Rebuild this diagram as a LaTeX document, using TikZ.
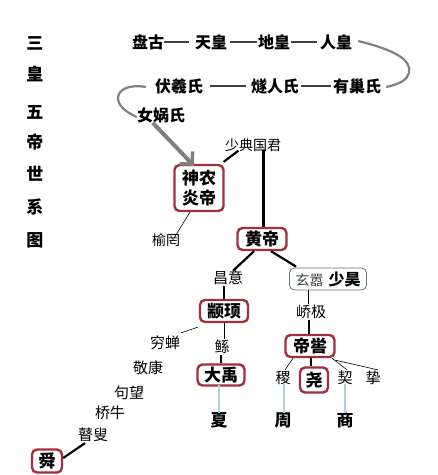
\documentclass[tikz,border=0pt]{standalone}
\usepackage{fontspec}
\newfontfamily\cjk{Noto Sans CJK SC}
\usetikzlibrary{arrows.meta,calc}
\definecolor{boxred}{HTML}{A0303C}
\definecolor{curvegray}{HTML}{808080}
\definecolor{lineblue}{HTML}{A9D3DE}
\definecolor{thinbox}{HTML}{806A5E}
\begin{document}
\begin{tikzpicture}[x=1pt,y=-1pt,
  every node/.style={inner sep=1pt,font=\cjk},
  title/.style={font=\cjk\bfseries\fontsize{17}{17}\selectfont},
  head/.style={font=\cjk\bfseries\fontsize{16}{16}\selectfont},
  small/.style={font=\cjk\fontsize{14}{14}\selectfont},
  mid/.style={font=\cjk\fontsize{15}{15}\selectfont},
  dyn/.style={font=\cjk\bfseries\fontsize{17}{17}\selectfont},
  emp/.style={draw=boxred,line width=2.4pt,rounded corners=5pt,inner sep=0pt,
    font=\cjk\bfseries\fontsize{17}{20}\selectfont},
  dashline/.style={draw=black!75,line width=2pt},
  curve/.style={draw=curvegray,line width=2.2pt},
  thick link/.style={draw=black,line width=2.2pt},
  thin link/.style={draw=black,line width=0.6pt},
  blue link/.style={draw=lineblue,line width=2pt}]
\useasboundingbox (0,0) rectangle (438,475);
\fill[white] (0,0) rectangle (438,475);

% vertical title
\node[title] (t1) at (35,43) {三};
\node[title] (t2) at (35,74) {皇};
\node[title] (t3) at (35,112) {五};
\node[title] (t4) at (35,142) {帝};
\node[title] (t5) at (35,174) {世};
\node[title] (t6) at (35,207) {系};
\node[title] (t7) at (35,240) {图};

% row 1
\node[head] (pg) at (148,42) {盘古};
\node[head] (th) at (211,42) {天皇};
\node[head] (dh) at (274,42) {地皇};
\node[head] (rh) at (336,42) {人皇};
\draw[dashline] ([xshift=-1pt]pg.east) -- ([xshift=-5pt]th.west);
\draw[dashline] ([xshift=2pt]th.east) -- ([xshift=0pt]dh.west);
\draw[dashline] ([xshift=0pt]dh.east) -- ([xshift=-2pt]rh.west);

% row 2
\node[head] (fx) at (179,86) {伏羲氏};
\node[head] (sr) at (275,86) {燧人氏};
\node[head] (yc) at (357,86) {有巢氏};
\node[head] (nw) at (161,115) {女娲氏};
\draw[dashline] ([xshift=6pt]fx.east) -- ([xshift=-4pt]sr.west);
\draw[dashline] ([xshift=1pt]sr.east) -- ([xshift=-1pt]yc.west);

% gray curves
\draw[curve] ([xshift=5pt,yshift=1pt]rh.east) .. controls (395,50) and (412,60) .. (409,73)
  .. controls (407,80) and (400,84) .. ([xshift=4pt,yshift=-1pt]yc.east);
\draw[curve] ([xshift=-8pt,yshift=-1pt]fx.west) .. controls (128,84) and (118,90) .. (118,98)
  .. controls (118,106) and (126,112) .. ([xshift=1pt,yshift=-2pt]nw.west);

% shennong
\node[emp,minimum width=49pt,minimum height=46pt,align=center] (sn) at (199,188)
  {神农\\炎帝};
\node[small] (sd) at (253,145) {少典国君};
\node[small] (yw) at (166,240) {榆罔};
\draw[curve,line width=4pt,-{Straight Barb[length=9pt,width=18pt,line width=3.5pt]}]
  ([xshift=17pt,yshift=1pt]nw.south west) -- ([xshift=-5pt,yshift=-2pt]sn.north);
\coordinate (sdA) at ($(sd.south west)!0.25!(sd.south east)$);
\coordinate (sdB) at ($(sd.south west)!0.68!(sd.south east)$);
\draw[thick link] ([yshift=2pt]sdA) -- ([xshift=-1pt,yshift=2pt]sn.north east);
\draw[thin link] ([xshift=-9pt]sn.south) -- ([xshift=9pt,yshift=-4pt]yw.north);

% huangdi
\node[emp,minimum width=49pt,minimum height=22pt] (hd) at (262,239) {黄帝};
\draw[thick link] ([yshift=3pt]sdB) -- (hd.north -| sdB);
\node[mid] (cy) at (228,278) {昌意};
\node[draw=thinbox,line width=0.8pt,rounded corners=5pt,minimum width=77pt,minimum height=22pt,inner sep=0pt] (xx) at (328,279)
  {{\color{black!75}\fontsize{14}{14}\selectfont 玄嚣}\hspace{5pt}{\bfseries\fontsize{16}{16}\selectfont 少昊}};
\draw[thick link] ([xshift=-8pt]hd.south) -- ([xshift=5pt,yshift=-1pt]cy.north);
\draw[thick link] ([xshift=9pt]hd.south) -- ([xshift=7pt,yshift=1pt]xx.north west);

% zhuanxu
\node[emp,minimum width=48pt,minimum height=22pt] (zx) at (224,311) {颛顼};
\draw[thick link] (cy.south -| zx.north) -- (zx.north);
\node[mid] (qj) at (311,312) {峤极};
\draw[thin link] (xx.south -| 308,0) -- (qj.north -| 308,0);

% diku
\node[emp,minimum width=49pt,minimum height=22pt] (dk) at (310,346) {帝喾};
\draw[thick link] (qj.south -| 309,0) -- (dk.north -| 309,0);

% zhuanxu descendants
\node[mid] (qc) at (165,343) {穷蝉};
\node[mid] (gun) at (222,347) {鲧};
\draw[thin link] ([xshift=-1pt,yshift=-4pt]zx.south west) -- ([xshift=0pt,yshift=2pt]qc.north east);
\draw[thin link] ([xshift=0pt]zx.south) -- (gun.north -| zx.south);
\node[mid] (jk) at (148,368) {敬康};
\node[mid] (jw) at (129,393) {句望};
\node[mid] (qn) at (110,413) {桥牛};
\node[mid] (gs) at (93,435) {瞽叟};
\node[emp,minimum width=30pt,minimum height=23pt] (shun) at (47,461) {舜};
\draw[thick link] ([xshift=0pt,yshift=3pt]shun.east) -- ([xshift=-8pt]gs.south);

% dayu
\node[emp,minimum width=47pt,minimum height=21pt] (dy) at (221,375) {大禹};
\draw[thick link] (gun.south -| dy.north) -- (dy.north);
\node[dyn] (xia) at (219,420) {夏};
\draw[blue link] ([xshift=-2pt,yshift=2pt]dy.south) -- ([yshift=-2pt]xia.north);

% diku descendants
\node[mid] (ji) at (283,378) {稷};
\node[emp,minimum width=28pt,minimum height=25pt] (yao) at (314,380) {尧};
\node[mid] (qi) at (345,378) {契};
\node[mid] (zhi) at (373,378) {挚};
\draw[thin link] ([xshift=-17pt]dk.south) -- ([xshift=2pt]ji.north);
\draw[thick link] ([xshift=1pt]dk.south) -- ([xshift=-3pt]yao.north);
\draw[thin link] ([xshift=22pt]dk.south) -- ([xshift=2pt]qi.north);
\draw[thin link] ([yshift=-2pt]dk.south east) -- ([xshift=5pt]zhi.north);
\node[dyn] (zhou) at (283,420) {周};
\node[dyn] (shang) at (345,420) {商};
\draw[blue link] ([xshift=1pt,yshift=2pt]ji.south) -- ([xshift=1pt,yshift=-2pt]zhou.north);
\draw[blue link] ([yshift=2pt]qi.south) -- ([yshift=-2pt]shang.north);
\end{tikzpicture}
\end{document}
